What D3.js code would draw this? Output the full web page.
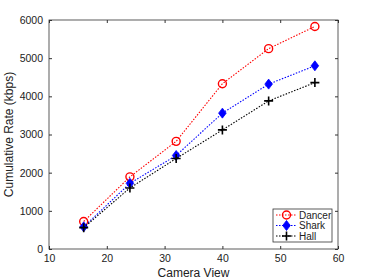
<!DOCTYPE html>
<html>
<head>
<meta charset="utf-8">
<script src="https://cdn.jsdelivr.net/npm/d3@7"></script>
<style>
  body { margin: 0; background: #fff; }
  text { font-family: "Liberation Sans", Arial, sans-serif; }
</style>
</head>
<body>
<div class="canvas"></div>
<script>
const views = [16, 24, 32, 40, 48, 56];
const dancer = [720, 1890, 2820, 4330, 5250, 5830];
const shark = [580, 1720, 2450, 3560, 4320, 4800];
const hall = [560, 1600, 2370, 3120, 3880, 4360];
const xTicks = [10, 20, 30, 40, 50, 60];
const yTicks = [0, 1000, 2000, 3000, 4000, 5000, 6000];

const series = [
  { name: "Dancer", values: dancer, color: "#ff0000", marker: "circle" },
  { name: "Shark", values: shark, color: "#0000ff", marker: "diamond" },
  { name: "Hall", values: hall, color: "#000000", marker: "plus" }
];

const W = 374, H = 280;
const m = { left: 49, right: 36, top: 20, bottom: 31 };

const svg = d3.select(".canvas").append("svg")
  .attr("width", W)
  .attr("height", H);

const x = d3.scaleLinear().domain([10, 60]).range([m.left, W - m.right]);
const y = d3.scaleLinear().domain([0, 6000]).range([H - m.bottom, m.top]);

const axisColor = "#333";
const fmt = d3.format("d");

// axes with inward ticks on all four sides
function styleAxis(g) {
  g.select(".domain").remove();
  g.selectAll("line").attr("stroke", axisColor);
  g.selectAll("text").attr("fill", "#222").style("font-size", "10.5px");
}

svg.append("g")
  .attr("transform", `translate(0,${H - m.bottom})`)
  .call(d3.axisBottom(x).tickValues(xTicks).tickFormat(fmt).tickSizeInner(-3).tickSizeOuter(0).tickPadding(6))
  .call(styleAxis);

svg.append("g")
  .attr("transform", `translate(0,${m.top})`)
  .call(d3.axisTop(x).tickValues(xTicks).tickSizeInner(-3).tickSizeOuter(0).tickFormat(""))
  .call(styleAxis);

svg.append("g")
  .attr("transform", `translate(${m.left},0)`)
  .call(d3.axisLeft(y).tickValues(yTicks).tickFormat(fmt).tickSizeInner(-3).tickSizeOuter(0).tickPadding(6))
  .call(styleAxis);

svg.append("g")
  .attr("transform", `translate(${W - m.right},0)`)
  .call(d3.axisRight(y).tickValues(yTicks).tickSizeInner(-3).tickSizeOuter(0).tickFormat(""))
  .call(styleAxis);

svg.append("rect")
  .attr("x", m.left)
  .attr("y", m.top)
  .attr("width", W - m.left - m.right)
  .attr("height", H - m.top - m.bottom)
  .attr("fill", "none")
  .attr("stroke", axisColor)
  .attr("stroke-width", 0.8);

// axis labels
svg.append("text")
  .attr("x", (m.left + W - m.right) / 2)
  .attr("y", H - 3)
  .attr("text-anchor", "middle")
  .attr("fill", "#222")
  .style("font-size", "12px")
  .text("Camera View");

svg.append("text")
  .attr("transform", `translate(13,${(m.top + H - m.bottom) / 2}) rotate(-90)`)
  .attr("text-anchor", "middle")
  .attr("fill", "#222")
  .style("font-size", "12px")
  .text("Cumulative Rate (kbps)");

// markers
function drawMarker(g, type, color) {
  if (type === "circle") {
    g.append("circle").attr("r", 4)
      .attr("fill", "none").attr("stroke", color).attr("stroke-width", 1.4);
  } else if (type === "diamond") {
    g.append("path").attr("d", "M0,-5L3.8,0L0,5L-3.8,0Z")
      .attr("fill", color).attr("stroke", color).attr("stroke-width", 0.8);
  } else {
    g.append("path").attr("d", "M-4.5,0H4.5M0,-4.5V4.5")
      .attr("stroke", color).attr("stroke-width", 1.6);
  }
}

const line = d3.line()
  .x((d, i) => x(views[i]))
  .y(d => y(d));

series.forEach(s => {
  svg.append("path")
    .datum(s.values)
    .attr("d", line)
    .attr("fill", "none")
    .attr("stroke", s.color)
    .attr("stroke-width", 1.1)
    .attr("stroke-dasharray", "1.5,1.5");

  s.values.forEach((v, i) => {
    const g = svg.append("g").attr("transform", `translate(${x(views[i])},${y(v)})`);
    drawMarker(g, s.marker, s.color);
  });
});

// legend
const lg = svg.append("g").attr("transform", "translate(273,209)");
lg.append("rect")
  .attr("width", 59)
  .attr("height", 33)
  .attr("fill", "#fff")
  .attr("stroke", axisColor)
  .attr("stroke-width", 0.8);

series.forEach((s, i) => {
  const ly = 6 + i * 10.5;
  lg.append("line")
    .attr("x1", 3).attr("x2", 24)
    .attr("y1", ly).attr("y2", ly)
    .attr("stroke", s.color)
    .attr("stroke-width", 1.1)
    .attr("stroke-dasharray", "1.5,1.5");
  const mg = lg.append("g").attr("transform", `translate(13.5,${ly})`);
  drawMarker(mg, s.marker, s.color);
  lg.append("text")
    .attr("x", 26)
    .attr("y", ly + 3.5)
    .attr("fill", "#222")
    .style("font-size", "10px")
    .text(s.name);
});
</script>
</body>
</html>
